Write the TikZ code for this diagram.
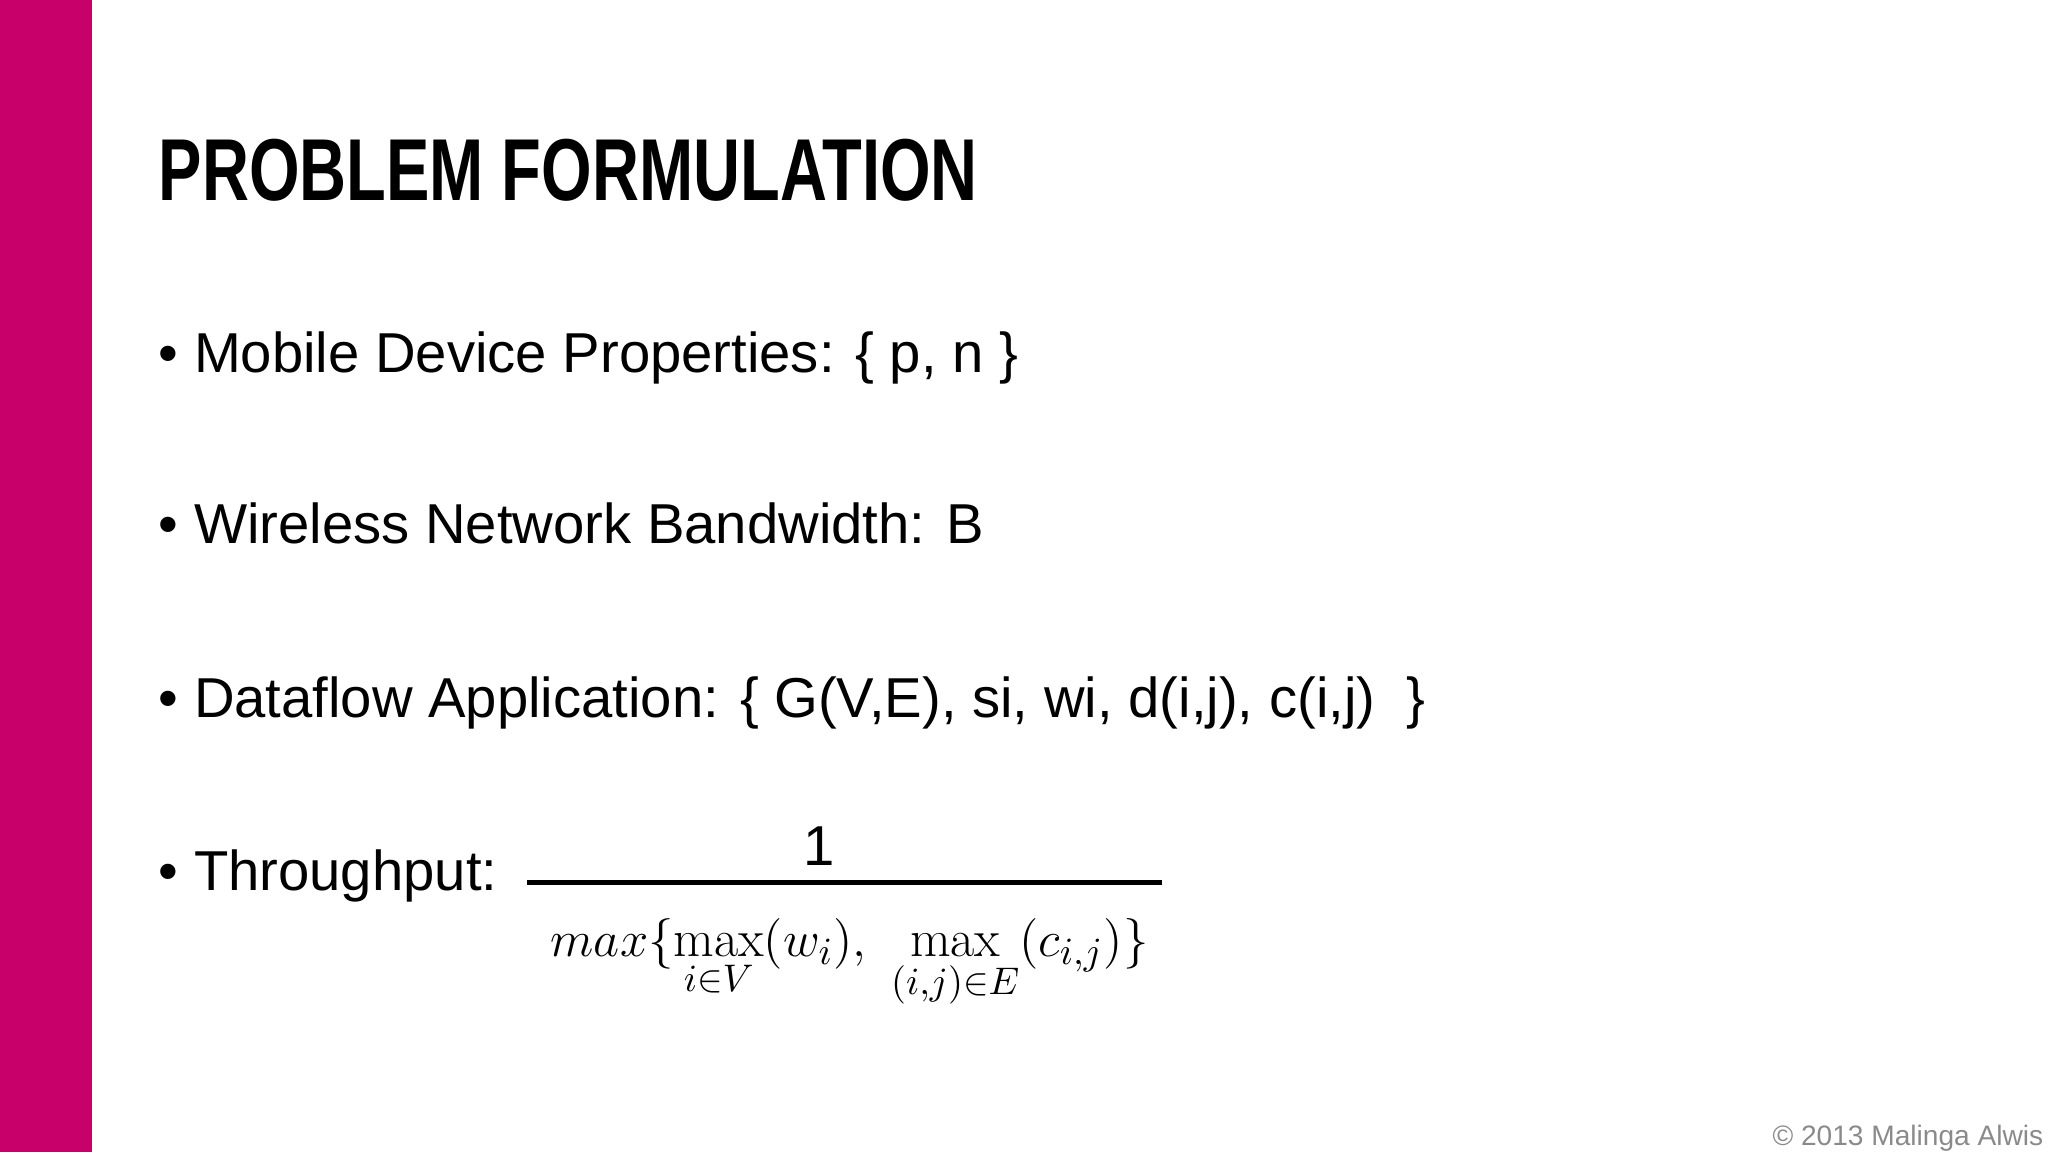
\documentclass[tikz,border=0pt]{standalone}
\usepackage{amsmath}
\usepackage{fontspec}
\setsansfont{Liberation Sans}
\newfontfamily\titlefont{Liberation Sans}
\usetikzlibrary{positioning}
\definecolor{slidebar}{HTML}{C8006A}
\definecolor{notegray}{HTML}{8A8A8A}

\begin{document}
\begin{tikzpicture}[x=0.01317cm,y=-0.01317cm]
    \tikzstyle{bullet} = [anchor=base west, inner sep=0pt, font=\sffamily\fontsize{16}{20}\selectfont]
    \tikzstyle{title} = [anchor=base west, inner sep=0pt]

    \useasboundingbox (0,0) rectangle (1555,875);
    \fill[slidebar] (0,0) rectangle (70,875);

    \node (head) [title] at (120,152) {\scalebox{0.74}[1]{\titlefont\bfseries\fontsize{25}{30}\selectfont PROBLEM FORMULATION}};

    \node (props) [bullet] at (120,283) {• Mobile Device Properties: \{ p, n \}};
    \node (band) [bullet] at (120,413) {• Wireless Network Bandwidth: B};
    \node (flow) [bullet] at (120,545) {• Dataflow Application: \{ G(V,E), si, wi, d(i,j), c(i,j)\ \ \}};
    \node (thru) [bullet] at (120,676) {• Throughput:};

    \coordinate (barl) at (400,670);
    \coordinate (barr) at (882,670);
    \draw[line width=1.4pt] (barl) -- (barr);
    \node (one) [bullet, anchor=base] at (622,657) {1};
    \node (denom) [inner sep=0pt, anchor=north] at (645,697) {\fontsize{15}{18}\selectfont
      $max\{\max\limits_{i\in V}(w_i),\ \max\limits_{(i,j)\in E}(c_{i,j})\}$};

    \node (copy) [anchor=base east, inner sep=0pt, text=notegray, font=\sffamily\fontsize{8}{10}\selectfont] at (1552,870) {© 2013 Malinga Alwis};
\end{tikzpicture}
\end{document}
